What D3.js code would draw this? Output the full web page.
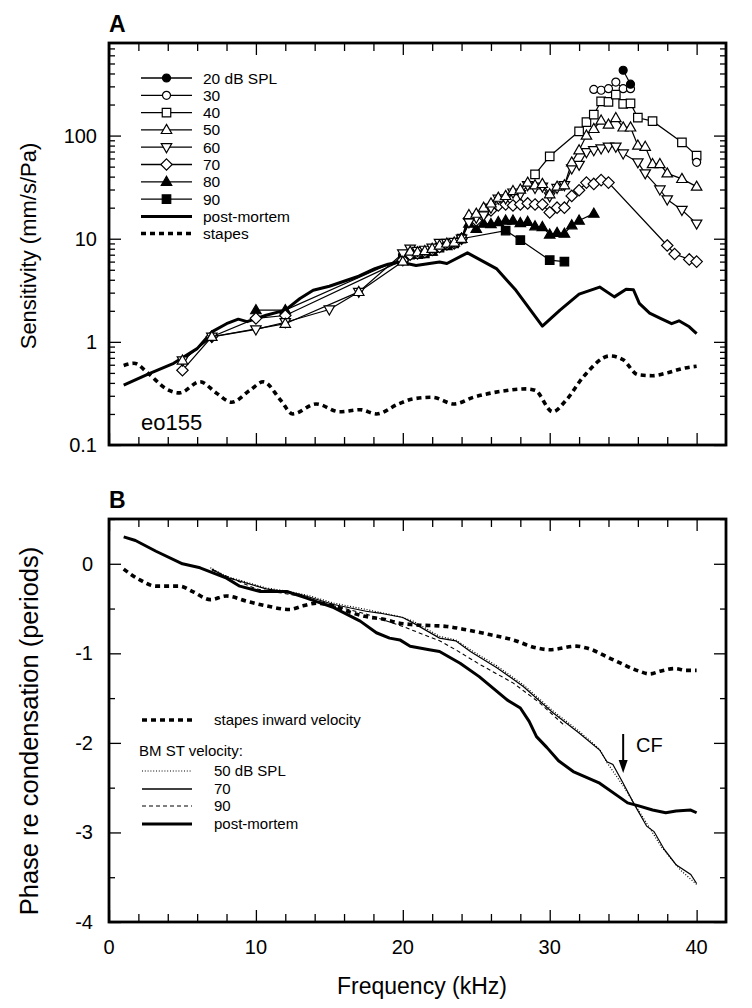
<!DOCTYPE html>
<html><head><meta charset="utf-8">
<script src="https://cdn.jsdelivr.net/npm/d3@7"></script>
<style>
html,body{margin:0;padding:0;background:#fff;}
text{font-family:"Liberation Sans",Arial,Helvetica,sans-serif;fill:#000;}
</style></head>
<body><svg id="c" width="752" height="1008"></svg>
<script>
// ---------- Panel A data (frequency kHz, sensitivity mm/s/Pa) ----------
const f20 = [35, 35.5];
const v20 = [430, 315];
const f30 = [33, 33.5, 34, 34.5, 35, 35.5, null, 40];
const v30 = [280, 275, 285, 330, 285, 285, null, 55];
const f40 = [29, 30, 32, 32.5, 33, 33.5, 34, 34.5, 35, 35.5, 36, 37, 39, 40];
const v40 = [42, 63, 110, 135, 160, 215, 212, 250, 203, 205, 149, 138, 86, 64];
const f50 = [5, 7, 12, 17, 20, 20.5, 21, 21.5, 22, 22.5, 23, 23.5, 24, 24.5, 25, 25.5, 26, 26.5, 27, 27.5, 28, 28.5, 29, 29.5, 30, 30.5, 31, 31.5, 32, 32.5, 33, 33.5, 34, 34.5, 35, 35.5, 36, 36.5, 37, 37.5, 38, 39, 40];
const v50 = [0.66, 1.12, 1.5, 3.05, 6.0, 7.5, 7.4, 7.6, 8.0, 8.6, 9.0, 9.2, 10, 17, 17.5, 20, 22, 25, 26, 29, 30, 35, 33, 34, 27, 32, 33, 55, 72, 100, 116, 140, 128, 148, 120, 120, 80, 78, 53, 53, 43, 38, 32];
const f60 = [5, 7, 10, 12, 15, 17, 20, 20.5, 21, 21.5, 22, 22.5, 23, 23.5, 24, 24.5, 25, 25.5, 26, 26.5, 27, 27.5, 28, 28.5, 29, 29.5, 30, 30.5, 31, 31.5, 32, 32.5, 33, 33.5, 34, 34.5, 35, 36, 36.5, 37.5, 38, 39, 40];
const v60 = [0.66, 1.12, 1.32, 1.55, 2.06, 3.05, 7.2, 8.0, 7.6, 7.8, 8.2, 9.1, 9.1, 9.3, 10, 14.4, 16, 16.8, 20, 24.4, 24.5, 28, 27, 33, 31, 32, 25.7, 31, 33, 48, 52, 69, 72, 75, 78, 78, 67, 55, 43, 30, 24, 19, 14];
const f70 = [5, 7, 10, 12, 20, 20.5, 21, 21.5, 22, 22.5, 23, 23.5, 24, 24.5, 25, 25.5, 26, 26.5, 27, 27.5, 28, 28.5, 29, 29.5, 30, 30.5, 31, 31.5, 32, 32.5, 33, 33.5, 34, 38, 38.5, 39.5, 40];
const v70 = [0.53, 1.12, 1.69, 1.8, 6.2, 7.0, 7.2, 7.4, 7.8, 8.3, 8.8, 9.0, 10, 15.7, 15, 17.5, 18.8, 21, 21.5, 21, 21.5, 22, 21.5, 21.5, 18, 20, 20, 26, 29.5, 35, 34, 37, 35, 8.6, 7.1, 6.3, 6.0];
const f80 = [10, 12, 20, 21, 22, 23, 24, 24.5, 25, 25.5, 26, 26.5, 27, 27.5, 28, 28.5, 29, 29.5, 30, 30.5, 31, 31.5, 32, 33];
const v80 = [2.03, 2.03, 6.5, 7.0, 7.5, 8.5, 10, 14, 12.5, 14, 13.9, 14.5, 15, 15, 14.2, 14.6, 13.2, 13, 11, 11.4, 11.2, 13.5, 15, 17.5];
const f90 = [20, 20.5, 21.5, 22, 22.5, 23.5, 24, 27, 28, 30, 31];
const v90 = [6.5, 7.0, 7.2, 7.6, 8.2, 9.0, 10, 12, 9.7, 6.2, 6.0];
const fPmA = [1, 2.7, 4.4, 6.0, 7.0, 8.0, 8.8, 9.4, 10.7, 12.0, 13.0, 13.9, 15.0, 17.0, 18.1, 19.0, 19.8, 20.9, 22.5, 23.0, 24.4, 26.4, 27.7, 29.5, 30.7, 32.0, 33.4, 34.4, 35.2, 35.7, 36.1, 36.8, 37.5, 38.3, 38.8, 39.5, 40];
const vPmA = [0.38, 0.49, 0.62, 0.86, 1.25, 1.5, 1.66, 1.57, 1.81, 2.03, 2.63, 3.16, 3.46, 4.33, 5.13, 5.65, 5.95, 5.5, 5.95, 5.75, 7.3, 5.1, 3.16, 1.42, 2.03, 2.9, 3.4, 2.73, 3.24, 3.2, 2.36, 1.9, 1.7, 1.5, 1.6, 1.4, 1.2];
const fStA = [1, 1.7, 2.7, 3.9, 4.8, 6.2, 7.3, 8.35, 9.6, 10.5, 11.7, 12.5, 14.1, 15.7, 17.1, 18.2, 19.7, 20.7, 22.0, 23.5, 24.8, 26.6, 28.4, 29.0, 30.2, 31.1, 32.3, 34.1, 35.0, 36.0, 37.0, 38.0, 39.0, 40.0];
const vStA = [0.59, 0.62, 0.49, 0.35, 0.32, 0.41, 0.32, 0.26, 0.34, 0.41, 0.27, 0.2, 0.25, 0.21, 0.22, 0.2, 0.25, 0.28, 0.29, 0.25, 0.29, 0.33, 0.35, 0.34, 0.21, 0.27, 0.46, 0.73, 0.67, 0.48, 0.47, 0.5, 0.55, 0.58];
const levelLabels = ["20 dB SPL", "30", "40", "50", "60", "70", "80", "90"];
const levelMarkers = ["circleF", "circle", "square", "tri", "triDown", "diamond", "triF", "squareF"];

// ---------- Panel B data (frequency kHz, phase periods) ----------
const fPmB = [1, 1.8, 3.2, 5, 6.2, 8, 8.9, 10.3, 12.1, 13.4, 15.3, 17.1, 18.2, 19.1, 19.8, 20.5, 21.8, 22.5, 23.9, 25.2, 27.1, 28, 28.6, 29.1, 29.8, 30.6, 31.6, 33.4, 34.7, 35.3, 36, 37, 37.9, 38.6, 39.6, 40];
const pPmB = [0.3, 0.26, 0.14, 0.0, -0.045, -0.16, -0.25, -0.31, -0.31, -0.38, -0.49, -0.64, -0.77, -0.83, -0.85, -0.92, -0.96, -0.98, -1.11, -1.26, -1.52, -1.61, -1.76, -1.93, -2.05, -2.2, -2.32, -2.45, -2.6, -2.67, -2.7, -2.75, -2.78, -2.76, -2.75, -2.78];
const fStB = [1, 2.1, 3.2, 4.8, 5.7, 6.9, 8, 9.4, 10.7, 12.3, 13.2, 14.1, 15.3, 16.4, 17.5, 18.7, 19.7, 20.7, 23, 24.1, 25.9, 27.5, 29.1, 30, 31.8, 32.5, 34.3, 36.1, 36.8, 37.5, 38.5, 39.3, 40];
const pStB = [-0.06, -0.18, -0.25, -0.25, -0.31, -0.4, -0.36, -0.42, -0.47, -0.51, -0.47, -0.44, -0.47, -0.54, -0.59, -0.62, -0.66, -0.68, -0.7, -0.73, -0.79, -0.85, -0.94, -0.96, -0.92, -0.94, -1.07, -1.2, -1.23, -1.2, -1.17, -1.19, -1.19];
const f50B = [6.9, 8, 10.7, 12.3, 13.7, 15.3, 17.5, 19.8, 20.7, 22.5, 23.6, 24.6, 26.4, 28.2, 30.2, 32, 33.4, 33.9, 35, 36.3, 37.6, 38.9, 40];
const p50B = [-0.045, -0.14, -0.27, -0.31, -0.36, -0.44, -0.51, -0.59, -0.64, -0.81, -0.85, -0.96, -1.14, -1.35, -1.64, -1.87, -2.07, -2.22, -2.48, -2.82, -3.16, -3.42, -3.58];
const f70B = [7, 8, 10.7, 12.3, 13, 15.3, 17.5, 18.4, 20, 20.7, 22.5, 23.6, 24.6, 26.4, 28.2, 30.2, 32, 33.4, 33.9, 34.3, 35, 35.7, 36.6, 37.1, 37.8, 38.6, 39.6, 40];
const p70B = [-0.06, -0.15, -0.28, -0.32, -0.34, -0.455, -0.53, -0.55, -0.6, -0.66, -0.83, -0.86, -0.98, -1.16, -1.37, -1.66, -1.89, -2.08, -2.21, -2.24, -2.45, -2.67, -2.93, -2.99, -3.19, -3.36, -3.47, -3.57];
const f90B = [7, 10, 13, 15.3, 17.5, 20, 22.5, 23.6, 25.2, 27.5, 29.3, 30.9, 31.1];
const p90B = [-0.07, -0.28, -0.36, -0.47, -0.56, -0.7, -0.86, -0.96, -1.12, -1.33, -1.55, -1.79, -1.81];

const xTicksMajor = [0, 10, 20, 30, 40];
const yTicksA = [0.1, 1, 10, 100];
const yTicksB = [0, -1, -2, -3, -4];

// ---------- drawing ----------
const svg = d3.select("#c");
const L = 109, R = 726;
const A = {top: 43, bottom: 445}, B = {top: 519, bottom: 922};
const x = d3.scaleLinear().domain([0, 42]).range([L, R]);
const yA = d3.scaleLog().domain([0.1, 790]).range([A.bottom, A.top]);
const yB = d3.scaleLinear().domain([-4, 0.5]).range([B.bottom, B.top]);
const xMinor = d3.range(0, 42, 2).filter(d => d % 10 !== 0);

function zip(fs, vs) { return fs.map((f, i) => ({f: f, v: vs[i]})); }

function markerPath(type, s) {
  const p = d3.path();
  if (type.startsWith("circle")) { p.arc(0, 0, s * 0.5, 0, 2 * Math.PI); }
  else if (type.startsWith("square")) { const h = s * 0.5; p.rect(-h, -h, 2 * h, 2 * h); }
  else if (type === "tri" || type === "triF") { const h = s * 0.58; p.moveTo(0, -h); p.lineTo(h * 0.95, h * 0.65); p.lineTo(-h * 0.95, h * 0.65); p.closePath(); }
  else if (type === "triDown") { const h = s * 0.58; p.moveTo(0, h); p.lineTo(h * 0.95, -h * 0.65); p.lineTo(-h * 0.95, -h * 0.65); p.closePath(); }
  else if (type === "diamond") { const h = s * 0.6; p.moveTo(0, -h); p.lineTo(h, 0); p.lineTo(0, h); p.lineTo(-h, 0); p.closePath(); }
  return p.toString();
}
function isFilled(type) { return type.endsWith("F"); }

function drawAxesFrame(yScale, top, bottom, majorY, minorY, labelFmt, labelX) {
  const g = svg.append("g");
  g.append("g").attr("transform", `translate(0,${bottom})`)
    .call(d3.axisBottom(x).tickValues(xTicksMajor).tickSize(-12).tickFormat(""));
  g.append("g").attr("transform", `translate(0,${bottom})`)
    .call(d3.axisBottom(x).tickValues(xMinor).tickSize(-8).tickFormat(""));
  g.append("g").attr("transform", `translate(0,${top})`)
    .call(d3.axisTop(x).tickValues(xTicksMajor).tickSize(-12).tickFormat(""));
  g.append("g").attr("transform", `translate(0,${top})`)
    .call(d3.axisTop(x).tickValues(xMinor).tickSize(-8).tickFormat(""));
  g.append("g").attr("transform", `translate(${L},0)`)
    .call(d3.axisLeft(yScale).tickValues(majorY).tickSize(-12).tickFormat(""));
  g.append("g").attr("transform", `translate(${L},0)`)
    .call(d3.axisLeft(yScale).tickValues(minorY).tickSize(-6).tickFormat(""));
  g.append("g").attr("transform", `translate(${R},0)`)
    .call(d3.axisRight(yScale).tickValues(majorY).tickSize(-12).tickFormat(""));
  g.append("g").attr("transform", `translate(${R},0)`)
    .call(d3.axisRight(yScale).tickValues(minorY).tickSize(-6).tickFormat(""));
  g.selectAll(".domain").remove();
  g.selectAll(".tick line").attr("stroke", "#000").attr("stroke-width", 1.3);
  majorY.forEach(d => {
    svg.append("text").attr("x", labelX).attr("y", yScale(d) + 7)
      .attr("text-anchor", "end").style("font-size", "20px").text(labelFmt(d));
  });
  svg.append("rect").attr("x", L).attr("y", top).attr("width", R - L).attr("height", bottom - top)
    .attr("fill", "none").attr("stroke", "#000").attr("stroke-width", 2.8);
}

const minorA = [];
[0.1, 1, 10, 100].forEach(dec => { for (let k = 2; k <= 9; k++) { const v = dec * k; if (v < 790) minorA.push(v); } });
drawAxesFrame(yA, A.top, A.bottom, yTicksA, minorA, d => d === 0.1 ? "0.1" : String(d), 97);
const minorB = [0.5, -0.5, -1.5, -2.5, -3.5];
drawAxesFrame(yB, B.top, B.bottom, yTicksB, minorB, d => String(d), 93);

xTicksMajor.forEach(d => {
  svg.append("text").attr("x", x(d)).attr("y", 954).attr("text-anchor", "middle")
    .style("font-size", "20px").text(d);
});

svg.append("text").attr("x", 109).attr("y", 32).style("font-size", "23px").style("font-weight", "bold").text("A");
svg.append("text").attr("x", 109).attr("y", 508).style("font-size", "23px").style("font-weight", "bold").text("B");
svg.append("text").attr("transform", "translate(36,246) rotate(-90)").attr("text-anchor", "middle")
  .style("font-size", "22px").text("Sensitivity (mm/s/Pa)");
svg.append("text").attr("transform", "translate(38,731) rotate(-90)").attr("text-anchor", "middle")
  .style("font-size", "25.5px").text("Phase re condensation (periods)");
svg.append("text").attr("x", 422).attr("y", 994).attr("text-anchor", "middle")
  .style("font-size", "23px").text("Frequency (kHz)");
svg.append("text").attr("x", 141).attr("y", 430).style("font-size", "22px").text("eo155");

// ---------- Panel A data marks ----------
const gA = svg.append("g");
const lineA = d3.line().defined(d => d.f != null && d.v != null).x(d => x(d.f)).y(d => yA(d.v));
const lineAsmooth = d3.line().x(d => x(d.f)).y(d => yA(d.v)).curve(d3.curveMonotoneX);
gA.append("path").datum(zip(fStA, vStA)).attr("d", lineAsmooth).attr("fill", "none")
  .attr("stroke", "#000").attr("stroke-width", 3.6).attr("stroke-dasharray", "5,4");
gA.append("path").datum(zip(fPmA, vPmA)).attr("d", lineA).attr("fill", "none")
  .attr("stroke", "#000").attr("stroke-width", 3).attr("stroke-linejoin", "round");

const seriesA = [
  {f: f90, v: v90}, {f: f80, v: v80}, {f: f70, v: v70}, {f: f60, v: v60},
  {f: f50, v: v50}, {f: f40, v: v40}, {f: f30, v: v30}, {f: f20, v: v20}
];
const markerOrder = [7, 6, 5, 4, 3, 2, 1, 0];
seriesA.forEach(s => {
  gA.append("path").datum(zip(s.f, s.v)).attr("d", lineA).attr("fill", "none")
    .attr("stroke", "#000").attr("stroke-width", 1.2);
});
seriesA.forEach((s, i) => {
  const type = levelMarkers[markerOrder[i]];
  const size = type.startsWith("circle") ? 8 : (type.startsWith("square") ? 8.5 : 9.5);
  gA.selectAll(null).data(zip(s.f, s.v).filter(d => d.f != null)).enter().append("path")
    .attr("transform", d => `translate(${x(d.f)},${yA(d.v)})`)
    .attr("d", markerPath(type, size))
    .attr("fill", isFilled(type) ? "#000" : "#fff").attr("stroke", "#000").attr("stroke-width", 1.2);
});

const legA = svg.append("g");
levelLabels.forEach((lab, i) => {
  const yy = 78 + i * 17.3;
  legA.append("line").attr("x1", 141).attr("x2", 192).attr("y1", yy).attr("y2", yy)
    .attr("stroke", "#000").attr("stroke-width", 1.3);
  const type = levelMarkers[i];
  const size = type.startsWith("circle") ? 8 : (type.startsWith("square") ? 8.5 : 9.5);
  legA.append("path").attr("transform", `translate(166.5,${yy})`).attr("d", markerPath(type, size))
    .attr("fill", isFilled(type) ? "#000" : "#fff").attr("stroke", "#000").attr("stroke-width", 1.2);
  legA.append("text").attr("x", 203).attr("y", yy + 5.5).style("font-size", "15.5px").text(lab);
});
legA.append("line").attr("x1", 141).attr("x2", 192).attr("y1", 216.5).attr("y2", 216.5)
  .attr("stroke", "#000").attr("stroke-width", 3.2);
legA.append("text").attr("x", 203).attr("y", 222).style("font-size", "15.5px").text("post-mortem");
legA.append("line").attr("x1", 141).attr("x2", 192).attr("y1", 233.5).attr("y2", 233.5)
  .attr("stroke", "#000").attr("stroke-width", 3.6).attr("stroke-dasharray", "5,4");
legA.append("text").attr("x", 203).attr("y", 239).style("font-size", "15.5px").text("stapes");

// ---------- Panel B data marks ----------
const gB = svg.append("g");
const lineB = d3.line().x(d => x(d.f)).y(d => yB(d.v));
const lineBs = d3.line().x(d => x(d.f)).y(d => yB(d.v)).curve(d3.curveMonotoneX);
gB.append("path").datum(zip(fStB, pStB)).attr("d", lineBs).attr("fill", "none")
  .attr("stroke", "#000").attr("stroke-width", 3.6).attr("stroke-dasharray", "5,4");
gB.append("path").datum(zip(f90B, p90B)).attr("d", lineB).attr("fill", "none")
  .attr("stroke", "#000").attr("stroke-width", 1.1).attr("stroke-dasharray", "4,3");
gB.append("path").datum(zip(f70B, p70B)).attr("d", lineB).attr("fill", "none")
  .attr("stroke", "#000").attr("stroke-width", 1.2);
gB.append("path").datum(zip(f50B, p50B)).attr("d", lineB).attr("fill", "none")
  .attr("stroke", "#000").attr("stroke-width", 1.2).attr("stroke-dasharray", "1,1.8");
gB.append("path").datum(zip(fPmB, pPmB)).attr("d", lineB).attr("fill", "none")
  .attr("stroke", "#000").attr("stroke-width", 3).attr("stroke-linejoin", "round");

const NARROW = '"Liberation Sans Narrow","Arial Narrow","Liberation Sans",Arial,sans-serif';
const legB = svg.append("g");
function legLine(yy, w, dash) {
  const l = legB.append("line").attr("x1", 142).attr("x2", 192).attr("y1", yy).attr("y2", yy)
    .attr("stroke", "#000").attr("stroke-width", w);
  if (dash) l.attr("stroke-dasharray", dash);
}
function legText(xx, yy, t) {
  legB.append("text").attr("x", xx).attr("y", yy).style("font-family", NARROW).style("font-size", "15px").text(t);
}
legLine(720, 3.6, "5,4"); legText(214, 725, "stapes inward velocity");
legText(139, 756, "BM ST velocity:");
legLine(771, 1.2, "1,1.8"); legText(214, 776, "50 dB SPL");
legLine(789, 1.3, null); legText(214, 794, "70");
legLine(806, 1.1, "4,3"); legText(214, 811, "90");
legLine(824, 3.2, null); legText(214, 829, "post-mortem");

const cfX = x(35);
svg.append("line").attr("x1", cfX).attr("x2", cfX).attr("y1", 734).attr("y2", 762)
  .attr("stroke", "#000").attr("stroke-width", 2);
svg.append("path").attr("d", `M${cfX - 4.5},${760} L${cfX + 4.5},${760} L${cfX},${773} Z`).attr("fill", "#000");
svg.append("text").attr("x", 636).attr("y", 752).style("font-size", "20px").text("CF");
</script>
</body></html>
